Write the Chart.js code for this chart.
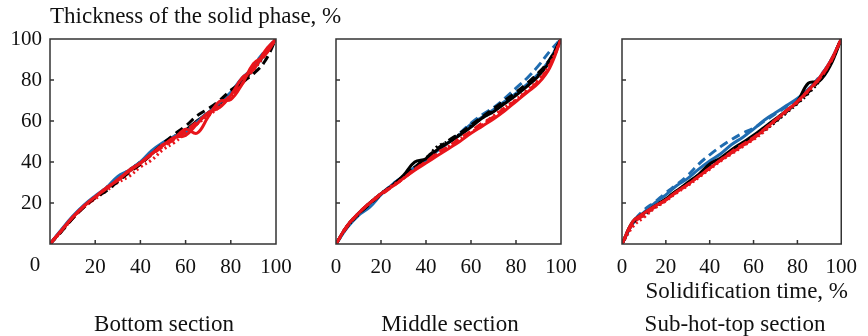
<!DOCTYPE html>
<html>
<head>
<meta charset="utf-8">
<script src="https://cdn.jsdelivr.net/npm/chart.js@4.4.0/dist/chart.umd.min.js"></script>
<style>
  body { margin: 0; background: #fff; }
  #wrap { position: relative; width: 868px; height: 336px; overflow: hidden; font-family: "Liberation Serif", serif; color: #111; }
  #wrap canvas { position: absolute; left: 0; top: 0; }
  .lbl { position: absolute; font-size: 23px; white-space: nowrap; }
</style>
</head>
<body>
<div id="wrap">
  <canvas id="c1" width="868" height="336"></canvas>
  <canvas id="c2" width="868" height="336"></canvas>
  <canvas id="c3" width="868" height="336"></canvas>
  <div class="lbl" style="left:50px; top:3px;">Thickness of the solid phase, %</div>
  <div class="lbl" style="right:20px; top:278px;">Solidification time, %</div>
  <div class="lbl" style="left:164px; top:311px; transform:translateX(-50%);">Bottom section</div>
  <div class="lbl" style="left:450px; top:311px; transform:translateX(-50%);">Middle section</div>
  <div class="lbl" style="left:735px; top:311px; transform:translateX(-50%);">Sub-hot-top section</div>
</div>
<script>
// solidification time, %
const time = [0, 5, 10, 15, 20, 25, 30, 35, 40, 45, 50, 55, 60, 65, 70, 75, 80, 85, 90, 95, 100];
const ticks = [0, 20, 40, 60, 80, 100];

// Bottom section
const bBlackSolid  = [0, 6.5, 13, 18.5, 23, 27, 31.5, 35.5, 39.5, 44, 48.5, 52, 55.5, 60, 64, 68.5, 73.5, 79, 85.5, 92.5, 100];
const bBlackDashed = [0, 6, 12.5, 18, 22.5, 26, 30.5, 35, 39, 44, 49, 53.5, 57.5, 62.5, 66, 70, 75, 79, 83, 89, 100];
const bBlackDotted = [0, 6.5, 13, 18.5, 23, 27.5, 32, 36, 40, 44.5, 48.5, 52.5, 55, 59.5, 63.5, 68, 73, 78.5, 85, 92, 100];
const bBlueSolid   = [0, 7, 13.5, 19, 23.5, 27.5, 33, 36, 40, 45.5, 49.5, 52.5, 54.5, 59.5, 64, 69, 74, 81, 86, 93, 100];
const bBlueDashed  = [0, 6.5, 13, 18.5, 23, 27, 32, 36, 40, 44.5, 49, 52, 55, 59.5, 64.5, 68.5, 74, 80, 87, 94, 100];
const bRedSolid    = [0, 6.5, 13, 18.5, 23, 27.5, 31, 36, 39.5, 44, 48.5, 51.5, 56, 54, 62, 69.5, 70.5, 78, 88, 92, 100];
const bRedSolid2   = [0, 6.5, 13, 18.5, 23, 27, 31.5, 35.5, 39.5, 44, 48, 52, 53, 58.5, 64, 66.5, 72.5, 81, 85, 94, 100];
const bRedDashed   = [0, 6.5, 12.5, 18, 22.5, 27, 31, 35, 39, 43.5, 47.5, 51, 55, 59.5, 63.5, 67.5, 72.5, 78, 86, 93, 100];
const bRedDotted   = [0, 6, 12.5, 18, 22, 26, 30, 33, 37.5, 41, 46, 49.5, 54, 58.5, 62.5, 67, 72, 78, 85, 92, 100];

// Middle section
const mBlackSolid  = [0, 9, 15, 20, 24.5, 28.5, 33.5, 40, 41.5, 46, 49.5, 53, 57, 61.5, 64.5, 68.5, 72.5, 77, 82, 89, 100];
const mBlackDashed = [0, 8.5, 14.5, 19.5, 24, 28.5, 33, 37.5, 42, 46.5, 50.5, 54, 58, 62, 66, 70, 74, 78.5, 83.5, 90, 100];
const mBlackDotted = [0, 8.5, 14.5, 20, 24.5, 28.5, 33, 37.5, 41.5, 47.5, 50, 53.5, 57.5, 61.5, 65, 69, 73, 77, 82.5, 89.5, 100];
const mBlueSolid   = [0, 8, 14, 18, 24, 29, 33, 37.5, 41, 45.5, 49.5, 53.5, 58.5, 62, 65.5, 69.5, 73.5, 78, 83, 90, 100];
const mBlueDashed  = [0, 8.5, 14.5, 19.5, 24.5, 29, 33, 37, 41.5, 45.5, 49.5, 54, 59, 63, 66.5, 71, 76, 81, 87, 94, 100];
const mRedSolid    = [0, 9, 15, 20, 24.5, 28, 32, 36, 39.5, 43, 46.5, 50, 54, 57.5, 61, 65, 69.5, 74, 78.5, 86, 100];
const mRedDashed   = [0, 8.5, 15, 20, 24, 28, 32, 36.5, 40, 44.5, 47.5, 51.5, 55, 59, 62, 66.5, 70, 74.5, 79.5, 87, 100];
const mRedDotted   = [0, 9, 15, 20, 24.5, 28.5, 32, 36.5, 40, 44, 47.5, 51, 54.5, 58, 62.5, 66.5, 70.5, 75, 80, 87.5, 100];

// Sub-hot-top section
const sBlackSolid  = [0, 11, 15, 18.5, 22, 26, 30, 34, 39, 42, 46, 49.5, 53, 57, 61, 65, 69.5, 78.5, 79.5, 87, 100];
const sBlackDashed = [0, 10.5, 14.5, 18.5, 22, 26, 29.5, 33.5, 37.5, 41.5, 45, 48.5, 52, 56, 60, 64.5, 69, 74, 80, 88.5, 100];
const sBlackDotted = [0, 10, 14, 18, 21.5, 25.5, 29.5, 33, 37, 41, 44.5, 48, 51.5, 55.5, 59.5, 64, 68.5, 73.5, 79.5, 88, 100];
const sBlueSolid   = [0, 10, 15.5, 20, 24, 28.5, 32, 36.5, 40.5, 44, 48.5, 52, 56, 60.5, 64, 67.5, 71, 75.5, 81, 89, 100];
const sBlueDashed  = [0, 10.5, 16.5, 20.5, 25, 29, 33.5, 39, 43.5, 47.5, 51, 54, 56.5, 60, 63.5, 67, 70.5, 75.5, 81.5, 89, 100];
const sRedSolid    = [0, 11, 15, 18.5, 21.5, 25.5, 29, 33, 37, 41, 44.5, 48, 51.5, 56, 60.5, 65, 69.5, 75, 81, 89, 100];
const sRedDashed   = [0, 10, 14, 18, 21.5, 25.5, 29, 33, 37, 41, 45, 48.5, 52, 56, 60.5, 65, 69.5, 75, 80.5, 88.5, 100];
const sRedDotted   = [0, 8.5, 13, 17.5, 21, 25, 28.5, 32.5, 36.5, 40.5, 44, 47.5, 51, 55, 60, 64.5, 69, 74.5, 80.5, 88.5, 100];

const BLACK = "#000000", BLUE = "#1f6cb0", RED = "#e8151b";
const SOLID = [], DASHED = [9, 5], DOTTED = [2, 3];

function series(ys, color, dash) {
  return {
    data: time.map((t, i) => ({ x: t, y: ys[i] })),
    borderColor: color,
    borderDash: dash,
    borderWidth: 3,
    pointRadius: 0,
    tension: 0.4,
    fill: false
  };
}

// box + inward tick marks, plus the lone "0" of the first panel
const boxPlugin = {
  id: "box",
  afterDraw(chart, args, opts) {
    const { ctx, chartArea: a } = chart;
    const xs = chart.scales.x, ys = chart.scales.y;
    ctx.save();
    ctx.strokeStyle = "#333";
    ctx.lineWidth = 1.5;
    ctx.strokeRect(a.left, a.top, a.right - a.left, a.bottom - a.top);
    ctx.beginPath();
    [20, 40, 60, 80].forEach(v => {
      const px = xs.getPixelForValue(v);
      ctx.moveTo(px, a.bottom); ctx.lineTo(px, a.bottom - 4);
      const py = ys.getPixelForValue(v);
      ctx.moveTo(a.left, py); ctx.lineTo(a.left + 4, py);
    });
    ctx.stroke();
    if (opts.origin) {
      ctx.fillStyle = "#111";
      ctx.font = "21px 'Liberation Serif'";
      ctx.textAlign = "center";
      ctx.textBaseline = "middle";
      ctx.fillText("0", a.left - 15, a.bottom + 21);
    }
    ctx.restore();
  }
};

// datasets listed top-most first (chart.js paints index 0 last)
function makeChart(id, sets, pad, showY, first) {
  const xH = 40;
  new Chart(document.getElementById(id), {
    type: "line",
    data: { datasets: sets },
    options: {
      responsive: false,
      animation: false,
      layout: { padding: { left: pad.left, right: pad.right, top: 39, bottom: 336 - 244 - xH } },
      plugins: { legend: { display: false }, tooltip: { enabled: false }, box: { origin: first } },
      scales: {
        x: {
          type: "linear", min: 0, max: 100,
          afterBuildTicks: s => { s.ticks = ticks.map(v => ({ value: v })); },
          afterFit: s => { s.height = xH; },
          grid: { display: false, drawTicks: false },
          border: { display: false },
          ticks: {
            padding: 11, color: "#111", maxRotation: 0,
            font: { family: "Liberation Serif", size: 21 },
            callback: v => (first && v === 0) ? "" : v
          }
        },
        y: {
          type: "linear", min: 0, max: 100,
          afterBuildTicks: s => { s.ticks = ticks.slice(1).map(v => ({ value: v })); },
          afterFit: s => { s.width = showY ? 50 : 10; },
          grid: { display: false, drawTicks: false },
          border: { display: false },
          ticks: {
            display: showY, padding: 8, color: "#111",
            font: { family: "Liberation Serif", size: 21 }
          }
        }
      }
    },
    plugins: [boxPlugin]
  });
}

makeChart("c1", [
  series(bRedSolid, RED, SOLID), series(bRedSolid2, RED, SOLID),
  series(bBlackDashed, BLACK, DASHED),
  series(bRedDashed, RED, DASHED), series(bRedDotted, RED, DOTTED),
  series(bBlueDashed, BLUE, DASHED), series(bBlueSolid, BLUE, SOLID),
  series(bBlackDotted, BLACK, DOTTED), series(bBlackSolid, BLACK, SOLID)
], { left: 0, right: 868 - 276 }, true, true);

makeChart("c2", [
  series(mRedSolid, RED, SOLID), series(mRedDashed, RED, DASHED), series(mRedDotted, RED, DOTTED),
  series(mBlackSolid, BLACK, SOLID), series(mBlackDashed, BLACK, DASHED), series(mBlackDotted, BLACK, DOTTED),
  series(mBlueDashed, BLUE, DASHED), series(mBlueSolid, BLUE, SOLID)
], { left: 326, right: 868 - 561 }, false, false);

makeChart("c3", [
  series(sRedSolid, RED, SOLID), series(sRedDashed, RED, DASHED), series(sRedDotted, RED, DOTTED),
  series(sBlackSolid, BLACK, SOLID),
  series(sBlackDotted, BLACK, DOTTED), series(sBlackDashed, BLACK, DASHED),
  series(sBlueDashed, BLUE, DASHED), series(sBlueSolid, BLUE, SOLID)
], { left: 612, right: 868 - 848 }, false, false);
</script>
</body>
</html>
